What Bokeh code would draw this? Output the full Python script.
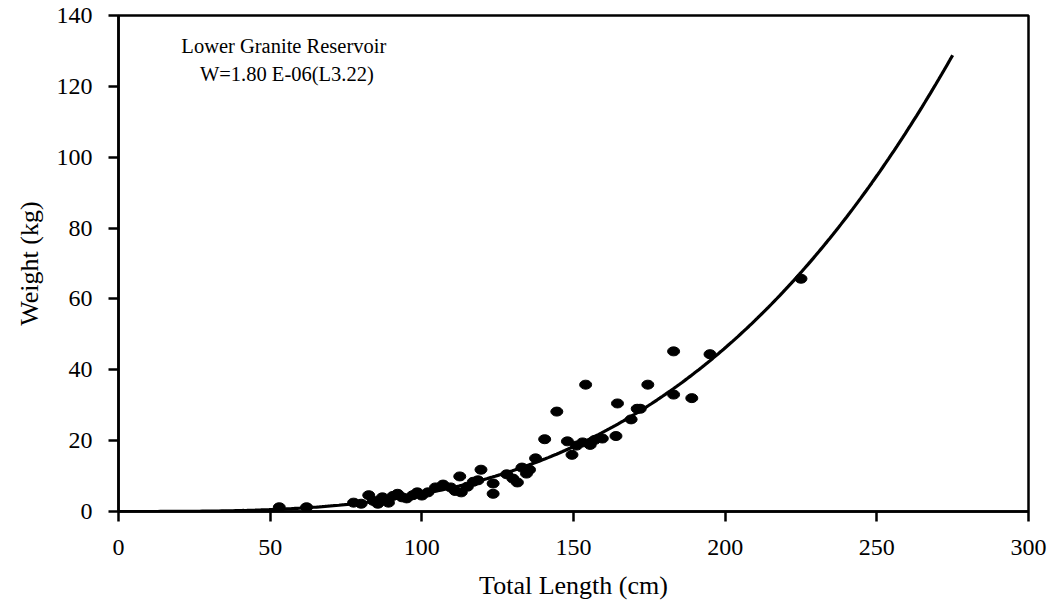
import numpy as np
from bokeh.plotting import figure
from bokeh.models import Range1d, FixedTicker, ColumnDataSource
from bokeh.core.properties import value
from bokeh.embed import file_html
from bokeh.resources import INLINE

# Observed fish: total length (cm) and weight (kg)
length_cm = [53, 62, 77.5, 80, 82.5, 84, 85.5, 87, 89, 90.5,
             92, 93.5, 95, 97, 98.5, 100, 102, 104.5, 107, 109.5,
             111, 112.5, 113, 115, 117, 118.5, 119.5, 123.5, 123.5, 128,
             130, 131.5, 133, 134.5, 135.5, 137.5, 140.5, 144.5, 148, 149.5,
             151, 153, 154, 155.5, 157, 159.5, 164, 164.5, 169, 171,
             172, 174.5, 183, 183, 189, 195, 225]
weight_kg = [1.2, 1.2, 2.5, 2.2, 4.6, 3.0, 2.2, 4.0, 2.5, 4.4,
             5.0, 4.0, 3.7, 4.6, 5.4, 4.5, 5.4, 6.8, 7.6, 6.8,
             5.8, 9.9, 5.4, 7.0, 8.4, 8.8, 11.8, 7.9, 5.0, 10.5,
             9.3, 8.2, 12.4, 10.7, 11.8, 15.0, 20.4, 28.2, 19.8, 16.0,
             18.6, 19.5, 35.8, 18.8, 20.2, 20.6, 21.3, 30.5, 26.0, 29.0,
             29.0, 35.8, 45.2, 33.0, 32.0, 44.4, 65.7]

# Length-weight relation W = a * L^b
coef_a = 1.80e-06
exp_b = 3.22
fit_max_length = 275

x_ticks = [0, 50, 100, 150, 200, 250, 300]
y_ticks = [0, 20, 40, 60, 80, 100, 120, 140]

title_lines = ["Lower Granite Reservoir", "W=1.80 E-06(L3.22)"]

SERIF = "Liberation Serif"

p = figure(width=1054, height=611, output_backend="svg", toolbar_location=None,
           x_range=Range1d(0, 300), y_range=Range1d(0, 140),
           min_border_left=118, min_border_right=26, min_border_top=15,
           min_border_bottom=100)
p.grid.visible = False
p.outline_line_color = "black"
p.outline_line_width = 2.5
p.background_fill_color = "white"
p.border_fill_color = "white"

fit_len = np.linspace(0, fit_max_length, 300)
fit_w = coef_a * fit_len ** exp_b
p.line(fit_len, fit_w, line_color="black", line_width=3.2)

src = ColumnDataSource(dict(x=length_cm, y=weight_kg))
p.ellipse(x="x", y="y", width=12, height=9, width_units="screen",
          height_units="screen", source=src, fill_color="black",
          line_color="black")

p.text(x=[54.5, 55.5], y=[131.5, 123.6], text=title_lines,
       text_align="center", text_baseline="middle",
       text_font=value(SERIF), text_font_size="20.5px", text_color="black")

for ax, ticks in ((p.xaxis[0], x_ticks), (p.yaxis[0], y_ticks)):
    ax.ticker = FixedTicker(ticks=ticks)
    ax.minor_tick_line_color = None
    ax.major_tick_in = 0
    ax.major_tick_out = 10
    ax.major_tick_line_width = 2.5
    ax.axis_line_width = 2.5
    ax.axis_line_color = "black"
    ax.major_tick_line_color = "black"
    ax.major_label_text_font = SERIF
    ax.major_label_text_font_size = "24px"
    ax.major_label_text_color = "black"
    ax.axis_label_text_font = SERIF
    ax.axis_label_text_font_size = "26px"
    ax.axis_label_text_font_style = "normal"
    ax.axis_label_text_color = "black"

p.xaxis.axis_label = "Total Length (cm)"
p.yaxis.axis_label = "Weight (kg)"
p.xaxis.major_label_standoff = 18
p.yaxis.major_label_standoff = 16
p.xaxis.axis_label_standoff = 13
p.yaxis.axis_label_standoff = 10

open("out.html", "w").write(file_html(p, INLINE))
